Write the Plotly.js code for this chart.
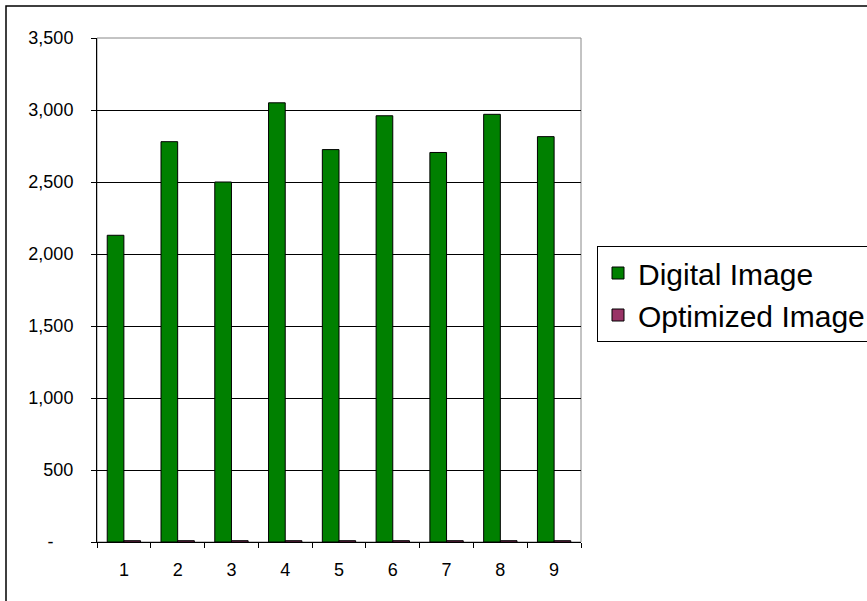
<!DOCTYPE html>
<html>
<head>
<meta charset="utf-8">
<script src="https://cdn.plot.ly/plotly-3.0.1.min.js"></script>
<style>
html,body{margin:0;padding:0;background:#fff;}
#chart{width:867px;height:601px;}
</style>
</head>
<body>
<div id="chart"></div>
<script>
const categories = ['1','2','3','4','5','6','7','8','9'];
const digitalImage = [2130, 2780, 2500, 3050, 2725, 2960, 2705, 2970, 2815];
const optimizedImage = [9, 9, 9, 9, 9, 9, 9, 9, 9];
const yTickVals = [0, 500, 1000, 1500, 2000, 2500, 3000, 3500];
const yTickText = ['-\u00a0\u00a0\u00a0\u00a0', '500', '1,000', '1,500', '2,000', '2,500', '3,000', '3,500'];

const font = {family: '"Liberation Sans", Arial, sans-serif', color: '#000'};

const traces = [
  {
    type: 'bar', name: 'Digital Image', x: categories, y: digitalImage,
    marker: {color: '#008000', line: {color: '#000', width: 1}}
  },
  {
    type: 'bar', name: 'Optimized Image', x: categories, y: optimizedImage,
    marker: {color: '#993366', line: {color: '#000', width: 1}}
  }
];

const layout = {
  width: 867, height: 601,
  paper_bgcolor: '#fff', plot_bgcolor: '#fff',
  margin: {l: 97, r: 286, t: 38, b: 59, pad: 0},
  barmode: 'group', bargap: 0.38, bargroupgap: 0,
  font: Object.assign({size: 18}, font),
  showlegend: true,
  legend: {
    xref: 'container', yref: 'container',
    x: 597/867, y: 1 - 246/601, xanchor: 'left', yanchor: 'top',
    bordercolor: '#000', borderwidth: 1, bgcolor: '#fff',
    font: Object.assign({size: 30}, font),
    tracegroupgap: 0
  },
  xaxis: {
    type: 'category',
    showline: true, linecolor: '#000', linewidth: 1,
    ticks: 'outside', tickson: 'boundaries', ticklen: 5, tickcolor: '#000',
    showgrid: false, zeroline: false,
    tickfont: Object.assign({size: 18}, font),
    ticklabelstandoff: 11
  },
  yaxis: {
    range: [0, 3500], tickvals: yTickVals, ticktext: yTickText,
    showline: true, linecolor: '#000', linewidth: 1,
    ticks: 'outside', ticklen: 5, tickcolor: '#000',
    showgrid: true, gridcolor: '#000', gridwidth: 1, zeroline: false,
    tickfont: Object.assign({size: 18}, font),
    ticklabelstandoff: 14
  },
  shapes: [
    {type: 'rect', xref: 'paper', yref: 'paper', x0: 0, x1: 1, y0: 0, y1: 1,
     line: {color: '#888', width: 1}, layer: 'below'},
    {type: 'rect', xref: 'paper', yref: 'paper', x0: -91/484, x1: 1.8, y0: -0.3, y1: 536/504,
     line: {color: '#000', width: 1.5}, layer: 'below'}
  ]
};

Plotly.newPlot('chart', traces, layout, {displayModeBar: false, staticPlot: true});
</script>
</body>
</html>
